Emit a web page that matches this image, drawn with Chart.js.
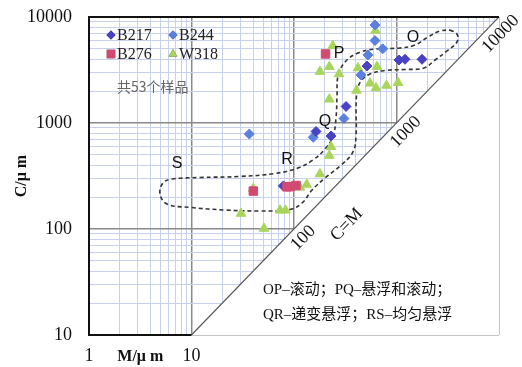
<!DOCTYPE html>
<html>
<head>
<meta charset="utf-8">
<script src="https://cdn.jsdelivr.net/npm/chart.js@4"></script>
<style>
  html, body { margin: 0; padding: 0; background: #fff; }
  #wrap { width: 522px; height: 367px; }
</style>
</head>
<body>
<div id="wrap"><canvas id="cm"></canvas></div>
<script>
// log axes: decades and the minor steps inside each one
const decades = [1, 10, 100, 1000, 10000];
const minorSteps = [2, 3, 4, 5, 6, 7, 8, 9];
const xLabels = ['1', '10'];
const yLabels = ['10', '100', '1000', '10000'];
const diagLabels = ['100', '1000', '10000'];

// samples: M (median, um) and C (one-percentile, um)
const b217M = [515, 1058, 1210, 1774, 322, 164, 230, 78.7];
const b217C = [3450, 3930, 3990, 3990, 1432, 832, 754, 255];
const b244M = [617, 617, 733, 527, 450, 307, 154, 36.6];
const b244C = [8410, 5990, 5010, 4390, 2840, 1102, 733, 787];
const b276M = [203, 40.1, 85.5, 91.4, 104.6];
const b276C = [4480, 228, 250, 251, 257];
const w318M = [624, 239, 179, 221, 275, 421, 645, 551, 631, 798, 1035, 407, 221, 230, 221, 179, 133, 114.5, 40, 30.4, 73, 82.6, 51];
const w318C = [7460, 5360, 3060, 3400, 2900, 3300, 3400, 2370, 2140, 2260, 2400, 2030, 1675, 597, 493, 330, 263, 247, 240, 140, 150, 150, 101];

// dashed OPQRS envelope
const envM = [3327, 3890, 3890, 3110, 2375, 1855, 1210, 772, 551, 450, 412, 403, 403, 376, 281, 201, 150, 120, 91.4, 46.6, 21.2, 9.67, 5.77, 4.93, 5.27, 6.45, 12.1, 29.7, 65.3, 109, 153, 201, 240, 257, 263, 269, 315, 421, 617, 1082, 1515, 2028, 2655];
const envC = [7540, 6910, 5810, 4780, 3930, 3304, 3197, 3128, 2900, 2490, 1962, 1327, 771, 533, 393, 303, 233, 176, 153, 148, 151, 160, 172, 214, 272, 296, 306, 313, 334, 376, 448, 569, 754, 1115, 1837, 2776, 3762, 4575, 4990, 5100, 5440, 6475, 7380];

// C = M line ends
const diagM = [10, 10000];

// zone letters, anchored in data units
const zoneNames = ['O', 'P', 'Q', 'R', 'S'];
const zoneM = [1449, 275, 201, 85.5, 7.22];
const zoneC = [6340, 4480, 1021, 448, 410];

const pts = (ms, cs) => ms.map((m, i) => ({ x: m, y: cs[i] }));
const gridVals = [];
decades.forEach(d => {
  gridVals.push(d);
  if (d < 10000) minorSteps.forEach(s => gridVals.push(d * s));
});

const serif = '"Liberation Serif", "DejaVu Serif", serif';
const cjk = '"Liberation Serif", "Noto Sans CJK SC", serif';

const gridColor = c => decades.includes(c.tick.value) ? '#8a8a8a' : '#c8d1ec';
const gridWidth = c => decades.includes(c.tick.value) ? 1.5 : 1;

const decor = {
  id: 'decor',
  afterDraw(chart) {
    const { ctx, chartArea: a, scales: { x, y } } = chart;
    ctx.save();

    // frame: top, left, and the short bottom edge up to M = 10
    ctx.strokeStyle = '#111';
    ctx.lineWidth = 2;
    ctx.beginPath();
    ctx.moveTo(x.getPixelForValue(10000), a.top);
    ctx.lineTo(a.left, a.top);
    ctx.lineTo(a.left, a.bottom);
    ctx.lineTo(x.getPixelForValue(10), a.bottom);
    ctx.stroke();

    // labels along the C = M line
    const th = Math.atan2(y.getPixelForValue(10) - y.getPixelForValue(10000),
                          x.getPixelForValue(10000) - x.getPixelForValue(10));
    const onDiag = (v, perp, along, text, font) => {
      const px = x.getPixelForValue(v), py = y.getPixelForValue(v);
      ctx.save();
      ctx.translate(px + Math.sin(th) * perp + Math.cos(th) * along,
                    py + Math.cos(th) * perp - Math.sin(th) * along);
      ctx.rotate(-th);
      ctx.font = font;
      ctx.fillStyle = '#111';
      ctx.textAlign = 'center';
      ctx.textBaseline = 'middle';
      ctx.fillText(text, 0, 0);
      ctx.restore();
    };
    diagLabels.forEach(l => {
      const v = Number(l);
      onDiag(v, 13, v === 10000 ? -11 : 0, l, '18px ' + serif);
    });
    onDiag(186, 35, 0, 'C=M', '18px ' + serif);

    // zone letters
    ctx.font = '16px "Liberation Sans", Arial, sans-serif';
    ctx.fillStyle = '#111';
    ctx.textAlign = 'center';
    ctx.textBaseline = 'middle';
    zoneNames.forEach((n, i) => {
      ctx.fillText(n, x.getPixelForValue(zoneM[i]), y.getPixelForValue(zoneC[i]));
    });

    // legend, 2 x 2 inside the plot
    const items = chart.data.datasets.filter(d => d.legend);
    items.forEach((d, i) => {
      const col = i % 2, row = Math.floor(i / 2);
      const mx = a.left + 22 + col * 62, my = a.top + 18 + row * 19;
      Chart.helpers.drawPoint(ctx, {
        pointStyle: d.pointStyle, radius: d.legendRadius, rotation: 0, borderWidth: 0
      }, mx, my);
      ctx.fillStyle = d.backgroundColor;
      ctx.fill();
      ctx.font = '16px ' + serif;
      ctx.fillStyle = '#222';
      ctx.textAlign = 'left';
      ctx.textBaseline = 'middle';
      ctx.fillText(d.label, mx + 6, my + 1);
    });

    ctx.font = '14px "Noto Sans CJK SC", sans-serif';
    ctx.fillStyle = '#666';
    ctx.textAlign = 'left';
    ctx.fillText('共53个样品', a.left + 28, a.top + 70);

    // axis titles
    ctx.font = 'bold 16px ' + serif;
    ctx.fillStyle = '#111';
    ctx.textAlign = 'center';
    ctx.fillText('M/μ m', (x.getPixelForValue(1) + x.getPixelForValue(10)) / 2, a.bottom + 22);
    ctx.save();
    ctx.translate(22, (a.top + a.bottom) / 2);
    ctx.rotate(-Math.PI / 2);
    ctx.fillText('C/μ m', 0, 0);
    ctx.restore();

    // note on transport modes
    ctx.font = '15px ' + cjk;
    ctx.textAlign = 'left';
    ctx.fillStyle = '#111';
    ctx.fillText('OP–滚动；PQ–悬浮和滚动；', 263, 290);
    ctx.fillText('QR–递变悬浮；RS–均匀悬浮', 263, 315);

    ctx.restore();
  }
};

new Chart(document.getElementById('cm'), {
  type: 'scatter',
  data: {
    datasets: [
      { label: 'B217', legend: true, data: pts(b217M, b217C), pointStyle: 'rectRot',
        backgroundColor: '#4a42c4', borderColor: '#4a42c4', pointRadius: 5, legendRadius: 4.5, order: 1 },
      { label: 'B244', legend: true, data: pts(b244M, b244C), pointStyle: 'rectRot',
        backgroundColor: '#5b80de', borderColor: '#5b80de', pointRadius: 5, legendRadius: 4.5, order: 1 },
      { label: 'B276', legend: true, data: pts(b276M, b276C), pointStyle: 'rect',
        backgroundColor: '#d24a72', borderColor: '#d24a72', pointRadius: 6, legendRadius: 6, order: 0 },
      { label: 'W318', legend: true, data: pts(w318M, w318C), pointStyle: 'triangle',
        backgroundColor: '#a8d65c', borderColor: '#a8d65c', pointRadius: 5.5, legendRadius: 5, order: 2 },
      { type: 'line', label: 'envelope', data: pts(envM.concat(envM[0]), envC.concat(envC[0])),
        borderColor: '#333', borderWidth: 1.6, borderDash: [4, 3], pointRadius: 0,
        tension: 0.4, fill: false, order: 5 },
      { type: 'line', label: 'C=M', data: pts(diagM, diagM),
        borderColor: '#555', borderWidth: 1.2, backgroundColor: '#fff', pointRadius: 0,
        fill: 'start', order: 10 }
    ]
  },
  options: {
    responsive: true,
    maintainAspectRatio: false,
    animation: false,
    events: [],
    layout: { padding: { top: 17, right: 23, left: 0, bottom: 0 } },
    plugins: { legend: { display: false }, tooltip: { enabled: false } },
    scales: {
      x: {
        type: 'logarithmic', min: 1, max: 10000,
        afterBuildTicks: s => { s.ticks = gridVals.map(v => ({ value: v })); },
        afterFit: s => { s.height = 32; s.paddingLeft = 0; s.paddingRight = 0; },
        border: { display: false },
        grid: { color: gridColor, lineWidth: gridWidth, drawTicks: false },
        ticks: {
          autoSkip: false, maxRotation: 0, padding: 10, color: '#111',
          font: { family: serif, size: 18 },
          callback: v => xLabels.includes(String(v)) ? String(v) : ''
        }
      },
      y: {
        type: 'logarithmic', min: 10, max: 10000,
        afterBuildTicks: s => { s.ticks = gridVals.filter(v => v >= 10).map(v => ({ value: v })); },
        afterFit: s => { s.width = 89; s.paddingTop = 0; s.paddingBottom = 0; },
        border: { display: false },
        grid: { color: gridColor, lineWidth: gridWidth, drawTicks: false },
        ticks: {
          autoSkip: false, padding: 17, color: '#111',
          font: { family: serif, size: 18 },
          callback: v => yLabels.includes(String(v)) ? String(v) : ''
        }
      }
    }
  },
  plugins: [decor]
});
</script>
</body>
</html>
